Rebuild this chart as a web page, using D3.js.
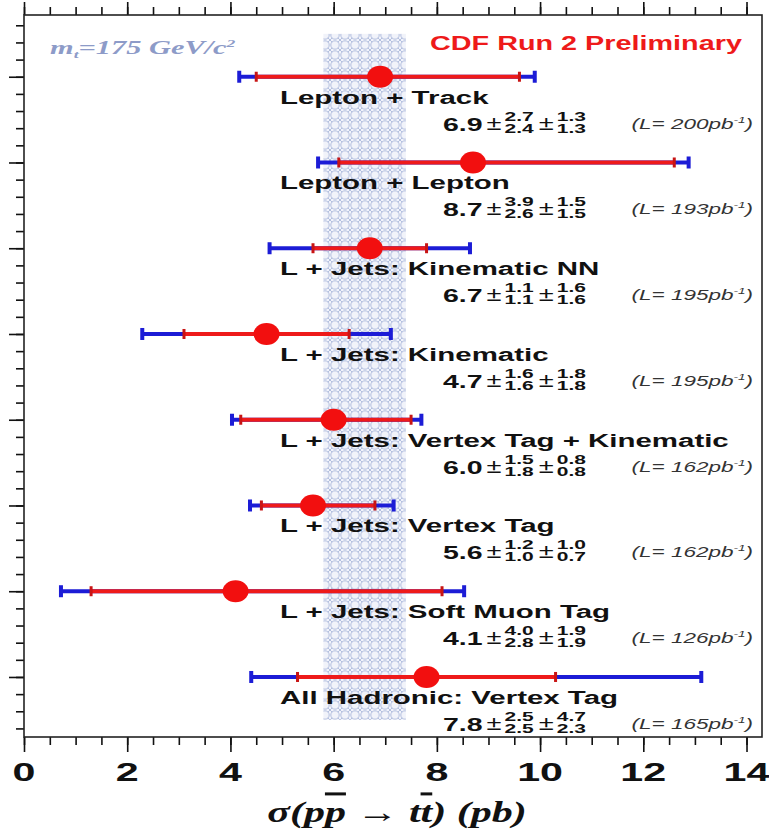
<!DOCTYPE html>
<html>
<head>
<meta charset="utf-8">
<script src="https://cdnjs.cloudflare.com/ajax/libs/d3/7.8.5/d3.min.js"></script>
<style>body{margin:0;background:#fff}</style>
</head>
<body>
<div id="chart"></div>
<script>
// measurements, top to bottom
const labels = [
  "Lepton + Track",
  "Lepton + Lepton",
  "L + Jets: Kinematic NN",
  "L + Jets: Kinematic",
  "L + Jets: Vertex Tag + Kinematic",
  "L + Jets: Vertex Tag",
  "L + Jets: Soft Muon Tag",
  "All Hadronic: Vertex Tag"
];
const central = [6.9, 8.7, 6.7, 4.7, 6.0, 5.6, 4.1, 7.8];
const statUp = [2.7, 3.9, 1.1, 1.6, 1.5, 1.2, 4.0, 2.5];
const statDn = [2.4, 2.6, 1.1, 1.6, 1.8, 1.0, 2.8, 2.5];
const systUp = [1.3, 1.5, 1.6, 1.8, 0.8, 1.0, 1.9, 4.7];
const systDn = [1.3, 1.5, 1.6, 1.8, 0.8, 0.7, 1.9, 2.3];
const lumi = [200, 193, 195, 195, 162, 162, 126, 165];

// theory band (m_t = 175)
const theoryBand = [5.8, 7.4];
const bandRows = [-0.5, 7.5];

const xTicks = [0, 2, 4, 6, 8, 10, 12, 14];

const W = 769, H = 834;
const margin = { top: 15, right: 7, bottom: 97, left: 24 };

const RED = "#ee1a1a", BLUE = "#1c1cd6";

const svg = d3.select("#chart").append("svg")
  .attr("width", W).attr("height", H);

const x = d3.scaleLinear().domain([0, 14.3]).range([margin.left, W - margin.right]);
const y = d3.scaleLinear().domain([-0.72, 7.7]).range([margin.top, H - margin.bottom]);

const totUp = central.map((d, i) => Math.hypot(statUp[i], systUp[i]));
const totDn = central.map((d, i) => Math.hypot(statDn[i], systDn[i]));

// stretched text like the original
function wideText(parent, px, py, str, o) {
  return parent.append("text")
    .attr("transform", `translate(${px},${py}) scale(${o.sx},1)`)
    .attr("font-family", o.family || "'Liberation Sans', Arial, sans-serif")
    .attr("font-size", o.size)
    .attr("font-weight", o.weight || "bold")
    .attr("font-style", o.style || "normal")
    .attr("fill", o.color || "#111")
    .attr("text-anchor", o.anchor || "start")
    .text(str);
}

// hatched theory band
const defs = svg.append("defs");
const pat = defs.append("pattern")
  .attr("id", "hatch")
  .attr("patternUnits", "userSpaceOnUse")
  .attr("width", 10).attr("height", 10);
pat.append("rect").attr("width", 10).attr("height", 10).attr("fill", "#f1f3fa");
pat.append("circle")
  .attr("cx", 5).attr("cy", 5).attr("r", 4.2)
  .attr("fill", "none").attr("stroke", "#b3bfdf").attr("stroke-width", 1);
pat.append("path")
  .attr("d", "M0,0L2,2M10,0L8,2M0,10L2,8M10,10L8,8")
  .attr("stroke", "#b3bfdf").attr("stroke-width", 1);

svg.append("rect")
  .attr("x", x(theoryBand[0]))
  .attr("y", y(bandRows[0]))
  .attr("width", x(theoryBand[1]) - x(theoryBand[0]))
  .attr("height", y(bandRows[1]) - y(bandRows[0]))
  .attr("fill", "url(#hatch)");

// axes (ticks only, frame drawn separately)
const yBottom = y.range()[1], yTop = y.range()[0];
const minorX = d3.range(0, 14.01, 0.5);
const minorY = d3.range(-0.6, 7.65, 0.2);
const majorY = d3.range(0, 8);

function tickAxis(axis, transform) {
  const g = svg.append("g").attr("transform", transform).call(axis);
  g.select(".domain").remove();
  g.selectAll("line").attr("stroke", "#111").attr("stroke-width", 1.6);
  return g;
}
tickAxis(d3.axisBottom(x).tickValues(minorX).tickSize(8).tickFormat(""), `translate(0,${yBottom})`);
tickAxis(d3.axisBottom(x).tickValues(xTicks).tickSize(15).tickFormat(""), `translate(0,${yBottom})`);
tickAxis(d3.axisTop(x).tickValues(minorX).tickSize(8).tickFormat(""), `translate(0,${yTop})`);
tickAxis(d3.axisTop(x).tickValues(xTicks).tickSize(13).tickFormat(""), `translate(0,${yTop})`);
tickAxis(d3.axisLeft(y).tickValues(minorY).tickSize(8).tickFormat(""), `translate(${margin.left},0)`);
tickAxis(d3.axisLeft(y).tickValues(majorY).tickSize(15).tickFormat(""), `translate(${margin.left},0)`);

svg.append("rect")
  .attr("x", margin.left).attr("y", yTop)
  .attr("width", x.range()[1] - margin.left)
  .attr("height", yBottom - yTop)
  .attr("fill", "none").attr("stroke", "#222").attr("stroke-width", 1.6);

xTicks.forEach(t => {
  wideText(svg, x(t), 781, String(t), { size: 25, sx: 1.65, anchor: "middle" });
});

// error bars
const rows = svg.append("g");
central.forEach((c, i) => {
  const cy = y(i);
  rows.append("line")
    .attr("x1", x(c - totDn[i])).attr("x2", x(c + totUp[i]))
    .attr("y1", cy).attr("y2", cy)
    .attr("stroke", BLUE).attr("stroke-width", 4);
  rows.append("line")
    .attr("x1", x(c - statDn[i])).attr("x2", x(c + statUp[i]))
    .attr("y1", cy).attr("y2", cy)
    .attr("stroke", RED).attr("stroke-width", 4);
  [c - totDn[i], c + totUp[i]].forEach(v => {
    rows.append("rect")
      .attr("x", x(v) - 2).attr("y", cy - 6)
      .attr("width", 4).attr("height", 12)
      .attr("fill", BLUE);
  });
  [c - statDn[i], c + statUp[i]].forEach(v => {
    rows.append("rect")
      .attr("x", x(v) - 1.5).attr("y", cy - 5)
      .attr("width", 3).attr("height", 10)
      .attr("fill", "#c81414");
  });
  rows.append("ellipse")
    .attr("cx", x(c)).attr("cy", cy)
    .attr("rx", 13).attr("ry", 11)
    .attr("fill", "#f20f0f");
});

// labels and numbers
const txt = svg.append("g");
labels.forEach((lab, i) => {
  const cy = y(i);
  wideText(txt, 280, cy + 27, lab, { size: 19, sx: 1.55 });

  const base = cy + 54;
  let cx = 443;
  const v = wideText(txt, cx, base, central[i].toFixed(1), { size: 19, sx: 1.5 });
  cx += v.node().getComputedTextLength() * 1.5 + 4;

  const frac = (up, dn) => {
    const a = wideText(txt, cx, base - 10, up.toFixed(1), { size: 12, sx: 1.75 });
    const b = wideText(txt, cx, base + 2, dn.toFixed(1), { size: 12, sx: 1.75 });
    cx += Math.max(a.node().getComputedTextLength(), b.node().getComputedTextLength()) * 1.75 + 5;
  };
  const pm = () => {
    const p = wideText(txt, cx, base - 1, "±", { size: 21, sx: 1.3, weight: "normal" });
    cx += p.node().getComputedTextLength() * 1.3 + 3;
  };
  pm(); frac(statUp[i], statDn[i]);
  pm(); frac(systUp[i], systDn[i]);

  const l = wideText(txt, 753, base - 2, "", { size: 15, sx: 1.5, weight: "normal", style: "italic", anchor: "end", color: "#333" });
  l.append("tspan").text(`(L= ${lumi[i]}pb`);
  l.append("tspan").attr("dy", -6).attr("font-size", 9).text("-1");
  l.append("tspan").attr("dy", 6).text(")");
});

// annotations
const mt = wideText(svg, 50, 54, "", {
  size: 19, sx: 1.6, family: "'Liberation Serif', 'Times New Roman', serif",
  style: "italic", color: "#8d9bc8"
});
mt.append("tspan").text("m");
mt.append("tspan").attr("dy", 4).attr("font-size", 11).text("t");
mt.append("tspan").attr("dy", -4).text("=175 GeV/c");
mt.append("tspan").attr("dy", -7).attr("font-size", 11).text("2");

wideText(svg, 430, 50, "CDF Run 2 Preliminary", { size: 20, sx: 1.44, color: RED });

const xl = wideText(svg, 397, 822, "", {
  size: 30, sx: 1.4, family: "'Liberation Serif', 'Times New Roman', serif",
  style: "italic", anchor: "middle"
});
xl.append("tspan").text("σ(p");
xl.append("tspan").style("text-decoration", "overline").text("p");
xl.append("tspan").text(" → t");
xl.append("tspan").style("text-decoration", "overline").text("t");
xl.append("tspan").text(") (pb)");
</script>
</body>
</html>
